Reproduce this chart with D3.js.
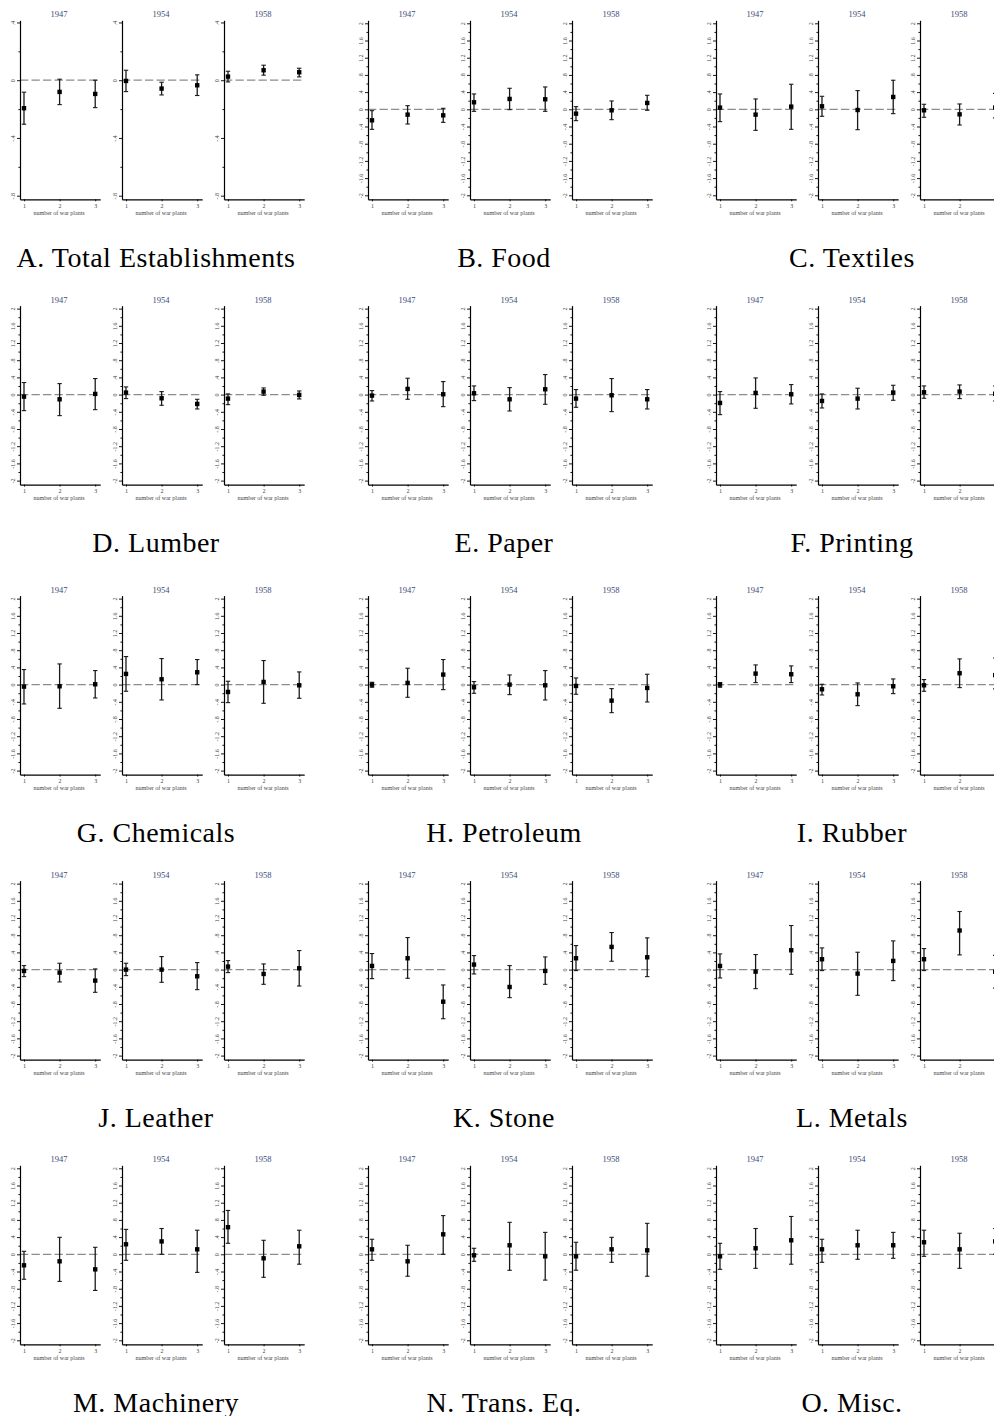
<!DOCTYPE html>
<html>
<head>
<meta charset="utf-8">
<script src="https://cdn.jsdelivr.net/npm/d3@7"></script>
<style>
  html, body { margin: 0; padding: 0; background: #fff; overflow: hidden; }
  svg { display: block; }
</style>
</head>
<body>
<svg id="chart" width="994" height="1416"></svg>
<script>
// Survey years (one small plot each) and the x categories
const years = ["1947", "1954", "1958"];
const warPlants = [1, 2, 3];
const xAxisTitle = "number of war plants";

// Panel captions, in reading order
const industries = [
  "A. Total Establishments", "B. Food", "C. Textiles",
  "D. Lumber", "E. Paper", "F. Printing",
  "G. Chemicals", "H. Petroleum", "I. Rubber",
  "J. Leather", "K. Stone", "L. Metals",
  "M. Machinery", "N. Trans. Eq.", "O. Misc."
];

// Y ticks: common scale for industries, narrower scale for total establishments
const tickValuesWide = [-2, -1.6, -1.2, -0.8, -0.4, 0, 0.4, 0.8, 1.2, 1.6, 2];
const tickLabelsWide = ["-2", "-1.6", "-1.2", "-.8", "-.4", "0", ".4", ".8", "1.2", "1.6", "2"];
const minorTicksWide = [-1.8, -1.4, -1.0, -0.6, -0.2, 0.2, 0.6, 1.0, 1.4, 1.8];
const tickValuesTotal = [-0.8, -0.4, 0, 0.4];
const tickLabelsTotal = ["-.8", "-.4", "0", ".4"];
const minorTicksTotal = [-0.6, -0.2, 0.2];

// Estimates with confidence bounds [estimate, lower, upper]:
// 1947 (1,2,3 plants), 1954 (1,2,3), 1958 (1,2,3)
const totalEstablishments = [
  [-0.194, -0.305, -0.083], [-0.081, -0.169, 0.007], [-0.095, -0.19, 0.0],
  [-0.005, -0.079, 0.069], [-0.058, -0.102, -0.014], [-0.035, -0.106, 0.037],
  [0.025, -0.012, 0.062], [0.069, 0.035, 0.104], [0.055, 0.023, 0.083]
];
const food = [
  [-0.256, -0.466, -0.031], [-0.124, -0.342, 0.085], [-0.14, -0.303, 0.023],
  [0.163, -0.047, 0.357], [0.241, -0.008, 0.489], [0.233, -0.047, 0.52],
  [-0.101, -0.264, 0.062], [-0.023, -0.241, 0.194], [0.148, -0.023, 0.326]
];
const textiles = [
  [0.039, -0.287, 0.357], [-0.124, -0.489, 0.241], [0.062, -0.466, 0.583],
  [0.07, -0.163, 0.303], [-0.016, -0.474, 0.435], [0.287, -0.101, 0.676],
  [-0.023, -0.186, 0.117], [-0.117, -0.365, 0.124], [0.04, -0.2, 0.37]
];
const lumber = [
  [-0.047, -0.373, 0.28], [-0.109, -0.489, 0.256], [0.016, -0.35, 0.373],
  [0.047, -0.093, 0.179], [-0.085, -0.249, 0.07], [-0.217, -0.334, -0.109],
  [-0.093, -0.233, 0.016], [0.07, -0.016, 0.155], [-0.008, -0.101, 0.085]
];
const paper = [
  [-0.023, -0.148, 0.093], [0.132, -0.109, 0.381], [0.008, -0.28, 0.303],
  [0.031, -0.14, 0.202], [-0.109, -0.381, 0.163], [0.124, -0.225, 0.466],
  [-0.093, -0.295, 0.117], [-0.016, -0.396, 0.373], [-0.109, -0.334, 0.117]
];
const printing = [
  [-0.194, -0.466, 0.07], [0.039, -0.318, 0.388], [0.008, -0.217, 0.233],
  [-0.148, -0.311, 0.016], [-0.093, -0.334, 0.148], [0.047, -0.132, 0.217],
  [0.054, -0.085, 0.202], [0.07, -0.093, 0.225], [0.02, -0.15, 0.2]
];
const chemicals = [
  [-0.047, -0.45, 0.35], [-0.039, -0.551, 0.481], [0.008, -0.311, 0.326],
  [0.249, -0.155, 0.652], [0.124, -0.357, 0.606], [0.287, 0.0, 0.583],
  [-0.171, -0.419, 0.078], [0.062, -0.435, 0.559], [-0.016, -0.318, 0.295]
];
const petroleum = [
  [0.0, -0.062, 0.054], [0.039, -0.295, 0.381], [0.233, -0.117, 0.583],
  [-0.062, -0.202, 0.07], [0.0, -0.233, 0.225], [-0.016, -0.357, 0.326],
  [-0.031, -0.225, 0.155], [-0.373, -0.652, -0.093], [-0.078, -0.404, 0.241]
];
const rubber = [
  [0.0, -0.062, 0.047], [0.256, 0.047, 0.458], [0.241, 0.047, 0.435],
  [-0.109, -0.241, 0.008], [-0.225, -0.489, 0.039], [-0.039, -0.21, 0.132],
  [-0.016, -0.155, 0.117], [0.264, -0.07, 0.598], [0.22, -0.1, 0.62]
];
const leather = [
  [-0.031, -0.163, 0.093], [-0.07, -0.287, 0.148], [-0.256, -0.528, 0.016],
  [0.0, -0.14, 0.148], [0.0, -0.295, 0.303], [-0.155, -0.466, 0.163],
  [0.07, -0.07, 0.21], [-0.101, -0.342, 0.132], [0.031, -0.381, 0.443]
];
const stone = [
  [0.085, -0.21, 0.373], [0.264, -0.202, 0.746], [-0.746, -1.142, -0.357],
  [0.117, -0.101, 0.326], [-0.404, -0.652, 0.093], [-0.031, -0.342, 0.295],
  [0.264, -0.023, 0.559], [0.528, 0.194, 0.862], [0.287, -0.163, 0.738]
];
const metals = [
  [0.085, -0.194, 0.365], [-0.047, -0.443, 0.35], [0.45, -0.109, 1.025],
  [0.241, -0.023, 0.505], [-0.093, -0.598, 0.404], [0.202, -0.256, 0.668],
  [0.241, -0.023, 0.489], [0.909, 0.342, 1.351], [-0.05, -0.43, 0.33]
];
const machinery = [
  [-0.256, -0.58, 0.07], [-0.163, -0.63, 0.395], [-0.35, -0.84, 0.163],
  [0.233, -0.14, 0.58], [0.3, 0.0, 0.6], [0.116, -0.42, 0.56],
  [0.63, 0.256, 1.02], [-0.093, -0.535, 0.326], [0.186, -0.23, 0.56]
];
const transEquipment = [
  [0.116, -0.14, 0.35], [-0.163, -0.51, 0.21], [0.465, 0.0, 0.9],
  [-0.023, -0.163, 0.14], [0.21, -0.372, 0.744], [-0.047, -0.6, 0.51],
  [-0.047, -0.37, 0.28], [0.116, -0.186, 0.395], [0.093, -0.51, 0.72]
];
const misc = [
  [-0.047, -0.35, 0.256], [0.14, -0.326, 0.6], [0.326, -0.23, 0.88],
  [0.116, -0.186, 0.35], [0.21, -0.116, 0.56], [0.21, -0.093, 0.51],
  [0.28, -0.047, 0.56], [0.116, -0.326, 0.49], [0.3, 0.0, 0.6]
];

const panelData = [
  totalEstablishments, food, textiles,
  lumber, paper, printing,
  chemicals, petroleum, rubber,
  leather, stone, metals,
  machinery, transEquipment, misc
];

// ---- layout ----
const groupLeft = [0, 348, 696];          // left edge of each column of panels
const rowZero = [109, 394.3, 684.3, 969.3, 1254]; // reference y of each row (zero on the common scale)
const subStep = 102;                      // distance between year plots
const axisInset = 20;                     // y axis offset inside a panel
const plotW = 80.2;

const serif = "'Liberation Serif', 'Times New Roman', serif";
const titleColor = "#3a4a78";

const svg = d3.select("#chart");
svg.append("rect").attr("width", 994).attr("height", 1416).attr("fill", "#fff");

const x = d3.scaleLinear().domain([0.888, 3.14]).range([0, plotW]);

panelData.forEach((rows, p) => {
  const col = p % 3, row = Math.floor(p / 3);
  const z = rowZero[row];
  const isTotal = p === 0;

  // both scales share the same plot band; only the value domain differs
  const y = d3.scaleLinear()
    .domain(isTotal ? [-0.825, 0.415] : [-2.093, 2.07])
    .range([z + 90.3, z - 88.7]);
  const tv = isTotal ? tickValuesTotal : tickValuesWide;
  const tl = isTotal ? tickLabelsTotal : tickLabelsWide;
  const mt = isTotal ? minorTicksTotal : minorTicksWide;

  const panel = svg.append("g").attr("transform", `translate(${groupLeft[col]},0)`);

  years.forEach((yr, k) => {
    const g = panel.append("g").attr("transform", `translate(${axisInset + k * subStep},0)`);
    const pts = rows.slice(k * 3, k * 3 + 3).map((d, i) => ({ n: warPlants[i], est: d[0], lo: d[1], hi: d[2] }));

    // reference line at zero
    g.append("line")
      .attr("x1", x.range()[0]).attr("x2", x.range()[1])
      .attr("y1", y(0)).attr("y2", y(0))
      .attr("stroke", "#8c8c8c").attr("stroke-width", 1.2)
      .attr("stroke-dasharray", "8.3,3.2");

    // y axis: labelled major ticks
    const ya = g.append("g")
      .call(d3.axisLeft(y).tickValues(tv).tickSize(3).tickSizeOuter(0)
        .tickFormat((d, i) => tl[i]));
    ya.select(".domain").attr("stroke", "#000").attr("stroke-width", 1.2);
    ya.selectAll(".tick line").attr("stroke", "#000").attr("stroke-width", 0.9);
    ya.selectAll(".tick text")
      .attr("x", null).attr("dy", null)
      .attr("transform", "translate(-7.5,0) rotate(-90)")
      .attr("text-anchor", "middle")
      .attr("dominant-baseline", "central")
      .attr("fill", "#444")
      .style("font-family", serif)
      .style("font-size", "6px");

    // y axis: minor ticks
    const ym = g.append("g")
      .call(d3.axisLeft(y).tickValues(mt).tickSize(1.6).tickSizeOuter(0).tickFormat(""));
    ym.select(".domain").remove();
    ym.selectAll(".tick line").attr("stroke", "#000").attr("stroke-width", 0.9);

    // x axis
    const xa = g.append("g")
      .attr("transform", `translate(0,${y.range()[0]})`)
      .call(d3.axisBottom(x).tickValues(warPlants).tickSize(2).tickSizeOuter(0)
        .tickFormat(d3.format("d")));
    xa.select(".domain").attr("stroke", "#000").attr("stroke-width", 1.2);
    xa.selectAll(".tick line").attr("stroke", "#000").attr("stroke-width", 0.9);
    xa.selectAll(".tick text")
      .attr("y", 8.5).attr("dy", null)
      .attr("fill", "#444")
      .style("font-family", serif)
      .style("font-size", "6px");

    g.append("text")
      .attr("x", plotW / 2 - 1).attr("y", y.range()[0] + 15.3)
      .attr("text-anchor", "middle")
      .attr("fill", "#444")
      .style("font-family", serif)
      .style("font-size", "6px")
      .text(xAxisTitle);

    // year title
    g.append("text")
      .attr("x", plotW / 2 - 1).attr("y", z - 91.7)
      .attr("text-anchor", "middle")
      .attr("fill", titleColor)
      .style("font-family", serif)
      .style("font-size", "8.5px")
      .text(yr);

    // confidence intervals with caps
    const ci = g.selectAll("g.ci").data(pts).join("g").attr("class", "ci");
    ci.append("line")
      .attr("x1", d => x(d.n)).attr("x2", d => x(d.n))
      .attr("y1", d => y(d.lo)).attr("y2", d => y(d.hi))
      .attr("stroke", "#1a1a1a").attr("stroke-width", 1.3);
    ci.append("line")
      .attr("x1", d => x(d.n) - 2.2).attr("x2", d => x(d.n) + 2.2)
      .attr("y1", d => y(d.lo)).attr("y2", d => y(d.lo))
      .attr("stroke", "#1a1a1a").attr("stroke-width", 1.1);
    ci.append("line")
      .attr("x1", d => x(d.n) - 2.2).attr("x2", d => x(d.n) + 2.2)
      .attr("y1", d => y(d.hi)).attr("y2", d => y(d.hi))
      .attr("stroke", "#1a1a1a").attr("stroke-width", 1.1);

    // point estimates
    g.selectAll("rect.pt").data(pts).join("rect").attr("class", "pt")
      .attr("x", d => x(d.n) - 2.2).attr("y", d => y(d.est) - 2.2)
      .attr("width", 4.4).attr("height", 4.4)
      .attr("fill", "#000");
  });

  // panel caption
  panel.append("text")
    .attr("x", 156).attr("y", z + 158)
    .attr("text-anchor", "middle")
    .attr("fill", "#000")
    .style("font-family", serif)
    .style("font-size", "28px")
    .style("letter-spacing", "0.5px")
    .text(industries[p]);
});
</script>
</body>
</html>
